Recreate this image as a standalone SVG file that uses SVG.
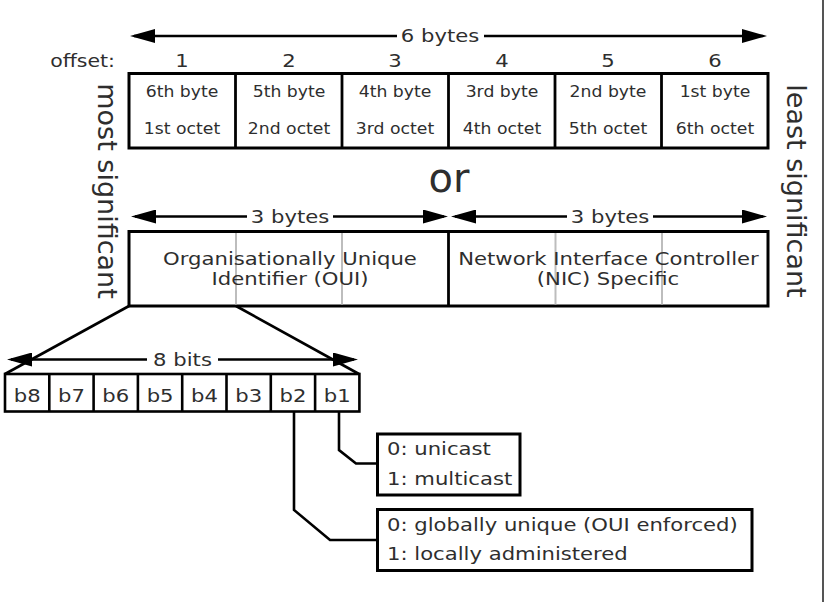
<svg xmlns="http://www.w3.org/2000/svg" width="834" height="602" viewBox="0 0 834 602">
<style>
text{font-family:"DejaVu Sans","Liberation Sans",sans-serif;fill:#2e2e2e}
.c{text-anchor:middle}
.e{text-anchor:end}
.s15{font-size:15px}
.s18{font-size:18.4px}
.s17{font-size:17.5px}
.box{fill:#fff;stroke:#000;stroke-width:3}
.div{stroke:#000;stroke-width:2.8}
.lt{stroke:#bdbdbd;stroke-width:2}
.ln{fill:none;stroke:#000;stroke-width:2.6}
.ms{marker-start:url(#ah)}
.me{marker-end:url(#ah)}
</style>
<defs>
<marker id="ah" markerUnits="userSpaceOnUse" markerWidth="26" markerHeight="14" refX="21" refY="7" orient="auto-start-reverse">
<path d="M0,0 L25,7 L0,14 Z" fill="#000"/>
</marker>
</defs>
<rect width="834" height="602" fill="#fff"/>
<line x1="823" y1="0" x2="823" y2="602" stroke="#555" stroke-width="2"/>

<g id="dimensions">
<path class="ln ms" d="M134,36 H397"/><path class="ln me" d="M484,36 H763"/>
<text class="c s18" transform="translate(440,42) scale(1.15,1)">6 bytes</text>
<path class="ln ms" d="M135,216.5 H247"/><path class="ln me" d="M333,216.5 H444"/>
<text class="c s18" transform="translate(290,223) scale(1.15,1)">3 bytes</text>
<path class="ln ms" d="M455,216.5 H567"/><path class="ln me" d="M653,216.5 H763"/>
<text class="c s18" transform="translate(610,223) scale(1.15,1)">3 bytes</text>
<path class="ln ms" d="M11,359.5 H147"/><path class="ln me" d="M218,359.5 H354"/>
<text class="c s18" transform="translate(182.5,366) scale(1.15,1)">8 bits</text>
</g>

<g id="offsets">
<text class="e" transform="translate(115,66.5) scale(1.15,1)" style="font-size:17.8px">offset:</text>
<text class="c s18" transform="translate(182,66.5) scale(1.15,1)">1</text>
<text class="c s18" transform="translate(289,66.5) scale(1.15,1)">2</text>
<text class="c s18" transform="translate(395,66.5) scale(1.15,1)">3</text>
<text class="c s18" transform="translate(502,66.5) scale(1.15,1)">4</text>
<text class="c s18" transform="translate(608,66.5) scale(1.15,1)">5</text>
<text class="c s18" transform="translate(715,66.5) scale(1.15,1)">6</text>
</g>

<g id="byte-row">
<rect class="box" x="129" y="73.5" width="639" height="74.5"/>
<line class="div" x1="235.5" y1="73.5" x2="235.5" y2="148"/>
<line class="div" x1="342" y1="73.5" x2="342" y2="148"/>
<line class="div" x1="448.5" y1="73.5" x2="448.5" y2="148"/>
<line class="div" x1="555" y1="73.5" x2="555" y2="148"/>
<line class="div" x1="661.5" y1="73.5" x2="661.5" y2="148"/>
<text class="c s15" transform="translate(182,96.5) scale(1.15,1)">6th byte</text>
<text class="c s15" transform="translate(289,96.5) scale(1.15,1)">5th byte</text>
<text class="c s15" transform="translate(395,96.5) scale(1.15,1)">4th byte</text>
<text class="c s15" transform="translate(502,96.5) scale(1.15,1)">3rd byte</text>
<text class="c s15" transform="translate(608,96.5) scale(1.15,1)">2nd byte</text>
<text class="c s15" transform="translate(715,96.5) scale(1.15,1)">1st byte</text>
<text class="c s15" transform="translate(182,134) scale(1.15,1)">1st octet</text>
<text class="c s15" transform="translate(289,134) scale(1.15,1)">2nd octet</text>
<text class="c s15" transform="translate(395,134) scale(1.15,1)">3rd octet</text>
<text class="c s15" transform="translate(502,134) scale(1.15,1)">4th octet</text>
<text class="c s15" transform="translate(608,134) scale(1.15,1)">5th octet</text>
<text class="c s15" transform="translate(715,134) scale(1.15,1)">6th octet</text>
</g>

<g id="or-label">
<text class="c" x="449" y="192" style="font-size:40px">or</text>
</g>

<g id="side-labels">
<text class="c" transform="translate(98,191) rotate(90)" style="font-size:27px">most significant</text>
<text class="c" transform="translate(787,191) rotate(90)" style="font-size:27px">least significant</text>
</g>

<g id="oui-nic">
<rect class="box" x="129" y="231.5" width="639" height="74.5"/>
<line class="lt" x1="236" y1="233" x2="236" y2="304.5"/>
<line class="lt" x1="342" y1="233" x2="342" y2="304.5"/>
<line class="lt" x1="555.5" y1="233" x2="555.5" y2="304.5"/>
<line class="lt" x1="662" y1="233" x2="662" y2="304.5"/>
<line class="div" x1="448.5" y1="231.5" x2="448.5" y2="306"/>
<text class="c s17" transform="translate(290,264.5) scale(1.21,1)">Organisationally Unique</text>
<text class="c s17" transform="translate(290,284.5) scale(1.21,1)">Identifier (OUI)</text>
<text class="c s17" transform="translate(608.5,264.5) scale(1.21,1)">Network Interface Controller</text>
<text class="c s17" transform="translate(608,284.5) scale(1.21,1)">(NIC) Specific</text>
</g>

<g id="connectors">
<path class="ln" d="M129,306 L5,374"/>
<path class="ln" d="M236,306 L359,374"/>
<path class="ln" d="M339,412 V450 L356,463.5 H377"/>
<path class="ln" d="M294,412 V510 L330,540 H377"/>
</g>

<g id="bits">
<rect class="box" x="5" y="374" width="354.4" height="37.5" style="stroke-width:2.6"/>
<g class="div" style="stroke-width:2.6">
<line x1="49.3" y1="374" x2="49.3" y2="411.5"/>
<line x1="93.6" y1="374" x2="93.6" y2="411.5"/>
<line x1="137.9" y1="374" x2="137.9" y2="411.5"/>
<line x1="182.2" y1="374" x2="182.2" y2="411.5"/>
<line x1="226.5" y1="374" x2="226.5" y2="411.5"/>
<line x1="270.8" y1="374" x2="270.8" y2="411.5"/>
<line x1="315.1" y1="374" x2="315.1" y2="411.5"/>
</g>
<text class="c s18" transform="translate(27.2,401.5) scale(1.15,1)">b8</text>
<text class="c s18" transform="translate(71.5,401.5) scale(1.15,1)">b7</text>
<text class="c s18" transform="translate(115.8,401.5) scale(1.15,1)">b6</text>
<text class="c s18" transform="translate(160.1,401.5) scale(1.15,1)">b5</text>
<text class="c s18" transform="translate(204.4,401.5) scale(1.15,1)">b4</text>
<text class="c s18" transform="translate(248.7,401.5) scale(1.15,1)">b3</text>
<text class="c s18" transform="translate(293,401.5) scale(1.15,1)">b2</text>
<text class="c s18" transform="translate(337.3,401.5) scale(1.15,1)">b1</text>
</g>

<g id="cast-box">
<rect class="box" x="377.5" y="434" width="142.5" height="61"/>
<text class="s18" transform="translate(387,455) scale(1.15,1)">0: unicast</text>
<text class="s18" transform="translate(387,485) scale(1.15,1)">1: multicast</text>
</g>

<g id="admin-box">
<rect class="box" x="377.5" y="509.5" width="374.5" height="61"/>
<text class="s18" transform="translate(387,531) scale(1.15,1)">0: globally unique (OUI enforced)</text>
<text class="s18" transform="translate(387,559.5) scale(1.15,1)">1: locally administered</text>
</g>
</svg>
